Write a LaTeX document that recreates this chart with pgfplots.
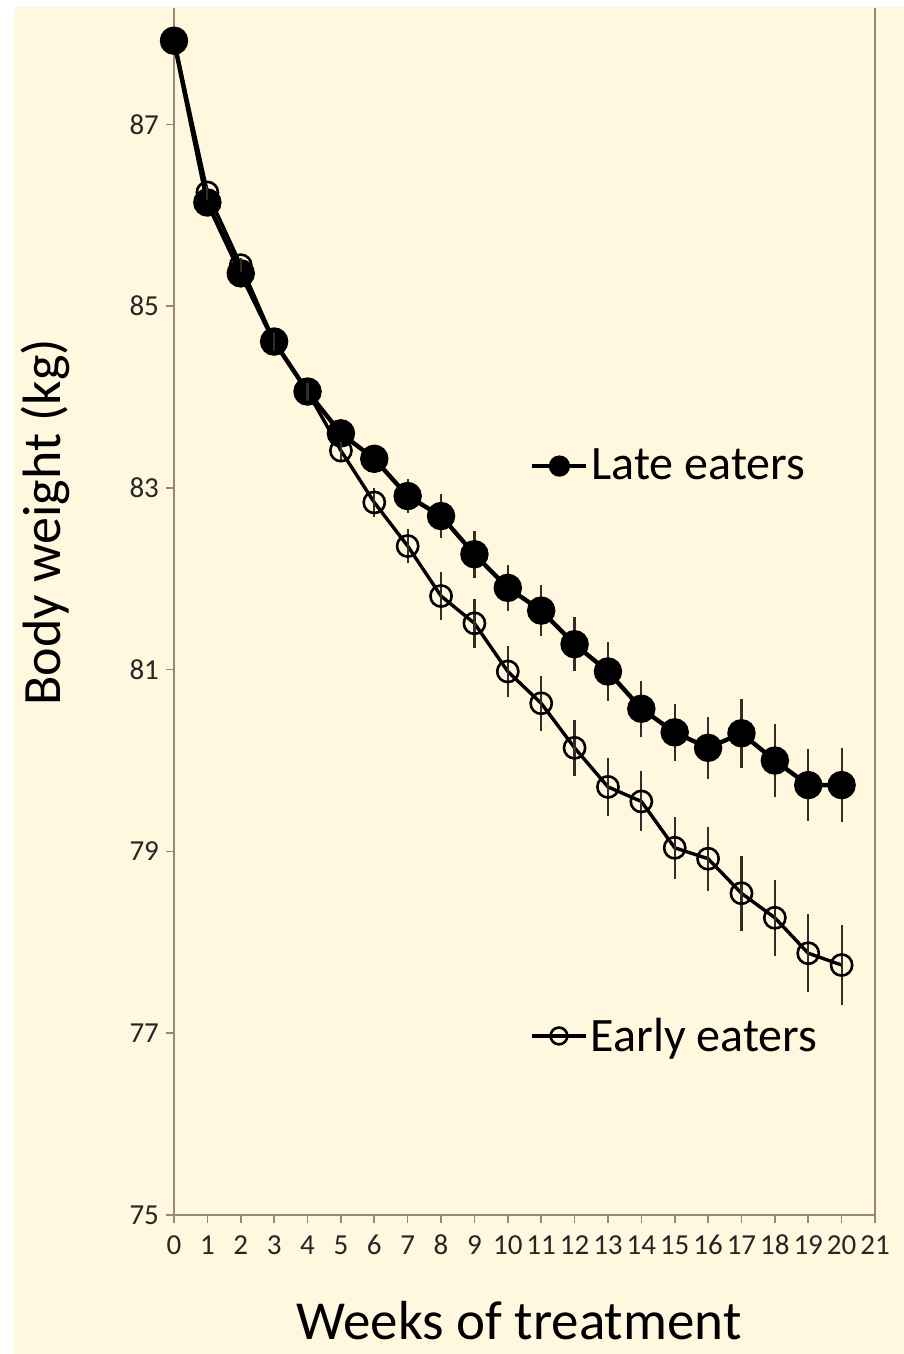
\documentclass[border=0pt]{standalone}
\usepackage{pgfplots}
\usepackage{pgfplotstable}
\pgfplotsset{compat=1.18}
\usepackage{fontspec}
\setmainfont{Carlito}

\definecolor{cream}{RGB}{255,248,222}
\definecolor{axisline}{RGB}{150,135,120}
\definecolor{errbar}{RGB}{50,45,40}

% mean body weight (kg) and SEM per week of treatment
\pgfplotstableread{
week late  lateerr early earlyerr
0    87.92 0.00    87.92 0.00
1    86.14 0.08    86.25 0.08
2    85.36 0.08    85.45 0.08
3    84.61 0.10    84.61 0.10
4    84.06 0.10    84.06 0.10
5    83.60 0.12    83.41 0.12
6    83.32 0.15    82.84 0.16
7    82.91 0.19    82.36 0.19
8    82.69 0.24    81.81 0.26
9    82.27 0.26    81.51 0.27
10   81.90 0.25    80.98 0.28
11   81.65 0.28    80.63 0.30
12   81.28 0.30    80.14 0.31
13   80.98 0.32    79.71 0.32
14   80.57 0.31    79.55 0.33
15   80.31 0.31    79.04 0.34
16   80.14 0.34    78.92 0.35
17   80.30 0.38    78.54 0.41
18   80.00 0.40    78.27 0.42
19   79.73 0.40    77.88 0.43
20   79.73 0.41    77.75 0.44
}\weighttable

\pgfplotsset{
  weightaxis/.style={
    at={(0,0)}, anchor=south west,
    scale only axis, width=350.5pt, height=603.5pt,
    xmin=0, xmax=21, ymin=75, ymax=88.28,
    clip=false,
  },
}

\begin{document}
\begin{tikzpicture}
\useasboundingbox (-87pt,-69.5pt) rectangle (365pt,607.5pt);
\fill[white] (-87pt,-69.5pt) rectangle (365pt,607.5pt);
\fill[cream] (-80pt,-69.5pt) rectangle (365pt,604pt);

% late eaters, with all axis decorations
\begin{axis}[weightaxis,
  axis x line*=bottom, axis y line*=left,
  axis line style={axisline, line width=0.8pt},
  tick style={axisline, line width=0.8pt},
  tick align=outside,
  major tick length=4pt,
  xtick={0,...,21}, ytick={75,77,...,87},
  minor tick num=0,
  /pgf/number format/assume math mode=true,
  ticklabel style={font=\fontsize{14.5}{16}\selectfont, text=black!85},
  xticklabel style={text height=9pt, text depth=0pt, yshift=-3pt},
  xlabel={Weeks of treatment},
  ylabel={Body weight (kg)},
  xlabel style={at={(axis description cs:0.492,-0.087)}, anchor=center,
                inner sep=0pt, text depth=0pt,
                font=\fontsize{27.5}{30}\selectfont},
  ylabel style={at={(axis description cs:-0.184,0.574)}, anchor=center,
                font=\fontsize{27}{30}\selectfont},
  legend image code/.code={
    \draw[#1, mark repeat=2, mark phase=2, mark size=4.2pt]
      plot coordinates {(0pt,0pt) (13.5pt,0pt) (27pt,0pt)};},
  legend style={at={(axis cs:10.66,83.24)}, anchor=west, draw=none, fill=none,
                inner sep=0pt, nodes={inner sep=1.5pt},
                font=\fontsize{24}{28}\selectfont},
]
\addplot[black, line width=2.2pt, mark=*, mark size=6pt,
  error bars/.cd, y dir=both, y explicit, error mark=none,
  error bar style={errbar, line width=1.1pt}]
  table[x=week, y=late, y error=lateerr]{\weighttable};
\addlegendentry{Late eaters}
\draw[axisline, line width=0.8pt] (rel axis cs:1,0) -- (rel axis cs:1,1);
\end{axis}

% early eaters, overlaid on the same frame
\begin{axis}[weightaxis, hide axis,
  legend image code/.code={
    \draw[#1, mark repeat=2, mark phase=2, mark size=4.2pt]
      plot coordinates {(0pt,0pt) (13.5pt,0pt) (27pt,0pt)};},
  legend style={at={(axis cs:10.66,76.97)}, anchor=west, draw=none, fill=none,
                inner sep=0pt, nodes={inner sep=1.5pt},
                font=\fontsize{24}{28}\selectfont},
]
\addplot[black, line width=1.7pt, mark=o, mark size=5.3pt,
  mark options={line width=1.3pt, fill=none},
  error bars/.cd, y dir=both, y explicit, error mark=none,
  error bar style={errbar, line width=1.1pt}]
  table[x=week, y=early, y error=earlyerr]{\weighttable};
\addlegendentry{Early eaters}
\end{axis}
\end{tikzpicture}
\end{document}
